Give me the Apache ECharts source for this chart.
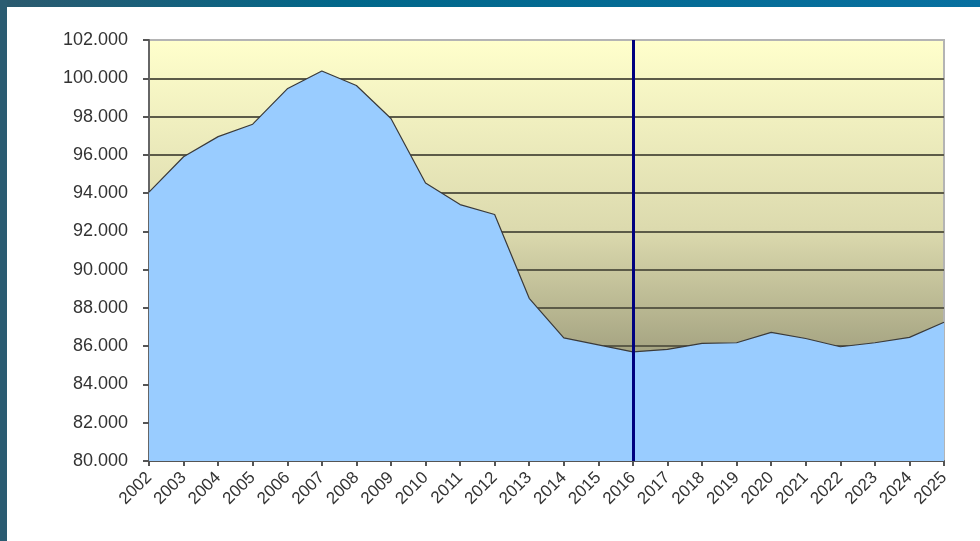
<!DOCTYPE html>
<html>
<head>
<meta charset="utf-8">
<script src="https://cdn.jsdelivr.net/npm/echarts@6/dist/echarts.min.js"></script>
<style>
html,body{margin:0;padding:0;background:#fff;}
#c{width:980px;height:541px;}
</style>
</head>
<body>
<div id="c"></div>
<script>
var years = ['2002','2003','2004','2005','2006','2007','2008','2009','2010','2011','2012','2013','2014','2015','2016','2017','2018','2019','2020','2021','2022','2023','2024','2025'];
var values = [94050, 95900, 96950, 97600, 99450, 100380, 99620, 97900, 94530, 93400, 92880, 88500, 86430, 86070, 85700, 85830, 86150, 86180, 86720, 86400, 85970, 86180, 86460, 87250];
var markerYear = '2016';
var yMin = 80000, yMax = 102000, yStep = 2000;

function fmt(v){
  var s = String(Math.round(v));
  return s.replace(/\B(?=(\d{3})+(?!\d))/g, '.');
}

var chart = echarts.init(document.getElementById('c'), null, {renderer:'canvas'});
chart.setOption({
  animation: false,
  backgroundColor: '#ffffff',
  graphic: [
    {type:'rect', left:0, top:0, shape:{width:980, height:7}, z:100,
     style:{fill:{type:'linear', x:0, y:0, x2:1, y2:0, colorStops:[{offset:0,color:'#2c5a6e'},{offset:0.35,color:'#01678a'},{offset:1,color:'#0870a0'}]}}},
    {type:'rect', left:0, top:0, shape:{width:7, height:541}, z:100, style:{fill:'#2b5c72'}}
  ],
  grid: {
    left: 149, right: 36, top: 40, bottom: 80,
    show: true,
    borderColor: '#b4b4b4',
    borderWidth: 2,
    backgroundColor: {type:'linear', x:0, y:0, x2:0, y2:1, colorStops:[{offset:0,color:'#ffffcc'},{offset:0.45,color:'#dcdaae'},{offset:1,color:'#74735a'}]}
  },
  xAxis: {
    type: 'category',
    data: years,
    boundaryGap: false,
    axisLine: {show:true, lineStyle:{color:'#555555', width:2}},
    axisTick: {show:true, alignWithLabel:true, length:5, lineStyle:{color:'#555555', width:2}},
    axisLabel: {rotate:45, margin:14, interval:0, color:'#333333', fontFamily:'Liberation Sans, Arial, sans-serif', fontSize:17},
    splitLine: {show:false}
  },
  yAxis: {
    type: 'value',
    min: yMin, max: yMax, interval: yStep,
    axisLine: {show:true, lineStyle:{color:'#666666', width:2}},
    axisTick: {show:true, length:6, lineStyle:{color:'#555555', width:2}},
    axisLabel: {margin:21, color:'#333333', fontFamily:'Liberation Sans, Arial, sans-serif', fontSize:18, formatter: fmt},
    splitLine: {show:true, showMaxLine:false, lineStyle:{color:'#5c5b48', width:2}}
  },
  series: [{
    type: 'line',
    data: values,
    symbol: 'none',
    lineStyle: {color:'#3a3a3a', width:1.2},
    areaStyle: {color:'#99ccff', opacity:1},
    z: 2,
    markLine: {
      silent: true,
      symbol: ['none','none'],
      label: {show:false},
      lineStyle: {color:'#00007f', width:3, type:'solid'},
      data: [{xAxis: markerYear}]
    }
  }]
});
</script>
</body>
</html>
